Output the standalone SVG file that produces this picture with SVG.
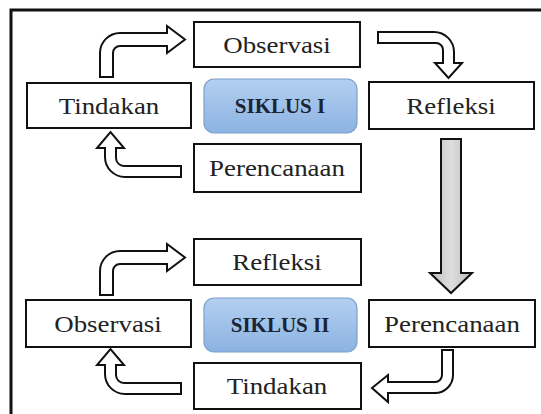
<svg xmlns="http://www.w3.org/2000/svg" width="541" height="414" viewBox="0 0 541 414">
<defs>
<linearGradient id="blue" x1="0" y1="0" x2="0" y2="1">
<stop offset="0" stop-color="#b3cff0"/>
<stop offset="1" stop-color="#8cb3e2"/>
</linearGradient>
<linearGradient id="gray" x1="0" y1="0" x2="1" y2="0">
<stop offset="0" stop-color="#bdbdbd"/>
<stop offset="0.5" stop-color="#dedede"/>
<stop offset="1" stop-color="#bdbdbd"/>
</linearGradient>
<style>
.box{fill:#fff;stroke:#111;stroke-width:2}
.cyc{fill:url(#blue);stroke:#7d9fca;stroke-width:1.2}
.t{font-family:"Liberation Serif","Times New Roman",Times,serif;font-size:24px;fill:#222;text-anchor:middle}
.b{font-family:"Liberation Serif","Times New Roman",Times,serif;font-size:20px;font-weight:bold;fill:#1a2433;text-anchor:middle}
.arr{fill:#fff;stroke:#111;stroke-width:2;stroke-linejoin:miter}
.garr{fill:url(#gray);stroke:#111;stroke-width:2}
</style>
</defs>
<rect width="541" height="414" fill="#fff"/>
<path d="M11,414 L11,10 L541,10" fill="none" stroke="#111" stroke-width="3"/>

<g id="connectors">
<path class="arr" d="M100,77 L100,53 A20,20 0 0 1 120,33 L167,33 L167,26 L185,39.5 L167,53 L167,46 L120,46 A7,7 0 0 0 113,53 L113,77 Z"/>
<path class="arr" d="M181,166 L124,166 A8,8 0 0 1 116,158 L116,148 L124,148 L110.5,132 L97,148 L105,148 L105,157 A20,20 0 0 0 125,177 L181,177 Z"/>
<path class="arr" d="M378,32 L434,32 A20,20 0 0 1 454,52 L454,63 L462,63 L448.5,78 L435,63 L443,63 L443,50 A7,7 0 0 0 436,43 L378,43 Z"/>
<path class="garr" d="M441,139 L461,139 L461,273 L472,273 L451,293 L430,273 L441,273 Z"/>
<path class="arr" transform="translate(0,218)" d="M100,77 L100,53 A20,20 0 0 1 120,33 L167,33 L167,26 L185,39.5 L167,53 L167,46 L120,46 A7,7 0 0 0 113,53 L113,77 Z"/>
<path class="arr" transform="translate(0,217)" d="M181,166 L124,166 A8,8 0 0 1 116,158 L116,148 L124,148 L110.5,132 L97,148 L105,148 L105,157 A20,20 0 0 0 125,177 L181,177 Z"/>
<path class="arr" d="M442,350 L453,350 L453,375 A18,18 0 0 1 435,393 L388,393 L388,402 L372,388 L388,375 L388,382 L435,382 A7,7 0 0 0 442,375 Z"/>
</g>

<g id="observasi1"><rect class="box" x="194" y="22" width="166" height="45"/><text class="t" transform="translate(277,53) scale(1.12,1)">Observasi</text></g>
<g id="tindakan1"><rect class="box" x="27" y="83" width="164" height="45"/><text class="t" transform="translate(109,114) scale(1.12,1)">Tindakan</text></g>
<g id="siklus1"><rect class="cyc" x="204" y="79" width="153" height="54" rx="10"/><text class="b" transform="translate(280,113) scale(1.05,1)">SIKLUS I</text></g>
<g id="refleksi1"><rect class="box" x="369" y="82" width="165" height="47"/><text class="t" transform="translate(451,114) scale(1.12,1)">Refleksi</text></g>
<g id="perencanaan1"><rect class="box" x="194" y="144" width="167" height="48"/><text class="t" transform="translate(277,176) scale(1.12,1)">Perencanaan</text></g>

<g id="refleksi2"><rect class="box" x="194" y="239" width="167" height="46"/><text class="t" transform="translate(277,270) scale(1.12,1)">Refleksi</text></g>
<g id="observasi2"><rect class="box" x="26" y="300" width="165" height="47"/><text class="t" transform="translate(108,332) scale(1.12,1)">Observasi</text></g>
<g id="siklus2"><rect class="cyc" x="204" y="298" width="153" height="54" rx="10"/><text class="b" transform="translate(280,332) scale(1.05,1)">SIKLUS II</text></g>
<g id="perencanaan2"><rect class="box" x="369" y="300" width="166" height="47"/><text class="t" transform="translate(452,332) scale(1.12,1)">Perencanaan</text></g>
<g id="tindakan2"><rect class="box" x="194" y="363" width="167" height="46"/><text class="t" transform="translate(277,394) scale(1.12,1)">Tindakan</text></g>
</svg>
